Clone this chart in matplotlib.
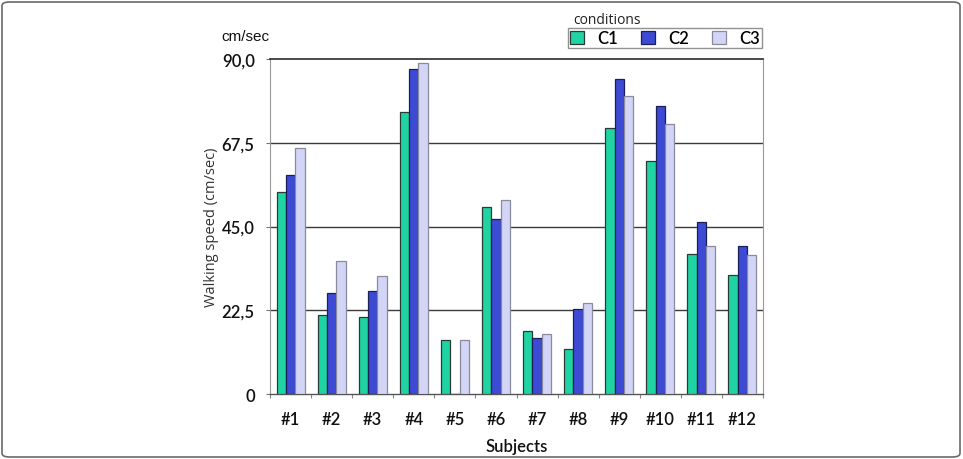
import matplotlib
matplotlib.use("Agg")
import matplotlib.pyplot as plt
import numpy as np
from matplotlib.patches import FancyBboxPatch

subjects = ["#1", "#2", "#3", "#4", "#5", "#6", "#7", "#8", "#9", "#10", "#11", "#12"]
c1 = [54.4, 21.2, 20.7, 75.7, 14.6, 50.2, 17.0, 12.1, 71.4, 62.5, 37.6, 32.1]
c2 = [58.8, 27.1, 27.7, 87.3, 0.0, 47.0, 15.0, 22.8, 84.6, 77.3, 46.2, 39.7]
c3 = [66.0, 35.8, 31.7, 88.9, 14.4, 52.1, 16.1, 24.4, 80.0, 72.5, 39.8, 37.4]
series_names = ["C1", "C2", "C3"]
yticks = [0, 22.5, 45.0, 67.5, 90.0]
ytick_labels = ["0", "22,5", "45,0", "67,5", "90,0"]

colors = ["#1fd3a3", "#3c4ad4", "#d3d5f6"]
edges = ["#2a3a34", "#1a1f55", "#8a8a9a"]

W, H = 963, 460
fig = plt.figure(figsize=(W / 100, H / 100), dpi=100)
ax = fig.add_axes([270 / W, 1 - 395 / H, (763 - 270) / W, (395 - 60) / H])

font = "Lato"
tick_fp = dict(fontsize=12, fontfamily=font, fontweight="semibold", color="#111111")
x = np.arange(len(subjects))
bw = 0.227
for i, vals in enumerate([c1, c2, c3]):
    ax.bar(x + (i - 1) * bw, vals, width=bw, color=colors[i], edgecolor=edges[i],
           linewidth=0.9, zorder=3, label=series_names[i])

ax.set_xlim(-0.5, len(subjects) - 0.5)
ax.set_ylim(0, 90)
ax.set_yticks(yticks)
ax.set_yticklabels(ytick_labels, **tick_fp)
ax.set_xticks(x)
ax.set_xticklabels(subjects, **tick_fp)
ax.tick_params(axis="y", length=3, color="#777777", width=0.8, pad=8)
ax.tick_params(axis="x", which="major", length=0, pad=12)
ax.set_xticks(np.arange(-0.5, len(subjects), 1.0), minor=True)
ax.tick_params(axis="x", which="minor", length=3, color="#888888", width=0.8)

for yv in yticks[1:-1]:
    ax.axhline(yv, color="#3a3a3a", linewidth=1.0, zorder=1)

ax.spines["top"].set_color("#2a2a2a")
ax.spines["top"].set_linewidth(1.2)
ax.spines["bottom"].set_color("#555555")
ax.spines["bottom"].set_linewidth(1.0)
ax.spines["left"].set_color("#999999")
ax.spines["right"].set_color("#999999")

ax.set_xlabel("Subjects", fontsize=12, fontfamily=font, fontweight="semibold",
              color="#111111", labelpad=8)
ax.set_ylabel("Walking speed (cm/sec)", fontsize=10.5, fontfamily="Open Sans",
              color="#333333", labelpad=2)

fig.text(221 / W, 1 - 37 / H, "cm/sec", fontsize=11, fontfamily="Liberation Sans",
         ha="left", va="center", color="#111111")
fig.text(573 / W, 1 - 20 / H, "conditions", fontsize=10, fontfamily="Open Sans",
         ha="left", va="center", color="#222222")

leg = fig.legend(loc="upper right", bbox_to_anchor=(762 / W, 1 - 29 / H), ncol=3,
                 prop={"family": font, "size": 12, "weight": "semibold"},
                 frameon=True, fancybox=False,
                 handlelength=0.85, handleheight=0.85, handletextpad=0.8,
                 columnspacing=1.35, borderpad=0.12, borderaxespad=0)
leg.get_frame().set_edgecolor("#777777")
leg.get_frame().set_linewidth(1.0)

border = FancyBboxPatch((2 / W, 2 / H), (W - 5) / W, (H - 5) / H,
                        boxstyle="round,pad=0,rounding_size=0.008",
                        transform=fig.transFigure, facecolor="none",
                        edgecolor="#6a6a6a", linewidth=1.2)
fig.patches.append(border)

fig.savefig("out.png", dpi=100)
